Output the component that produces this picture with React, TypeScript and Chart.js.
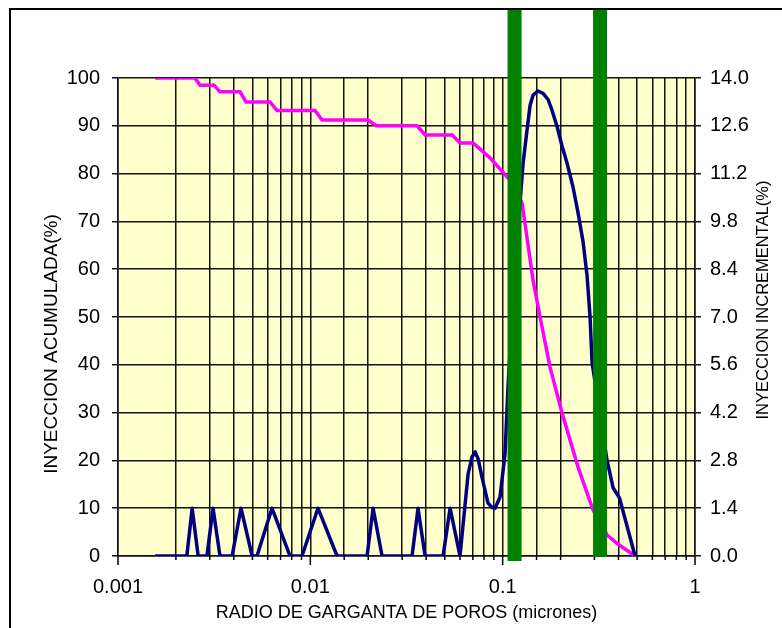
import React, { useEffect, useRef } from "react";
import { Chart, registerables } from "chart.js";

Chart.register(...registerables);

// Pore throat radius (microns) and cumulative injection (%)
const cumRadius = [
  0.00156, 0.00251, 0.00267, 0.00316, 0.00339, 0.00431, 0.00463, 0.00617, 0.00671, 0.01057,
  0.01151, 0.01995, 0.022, 0.0359, 0.0395, 0.0546, 0.06, 0.0702, 0.0859, 0.1054,
  0.115, 0.1262, 0.1439, 0.1565, 0.1763, 0.2037, 0.2466, 0.2951, 0.349, 0.4, 0.488,
];
const cumValues = [
  100, 100, 98.5, 98.5, 97.1, 97.1, 95.0, 95.0, 93.2, 93.2,
  91.2, 91.2, 90.0, 90.0, 88.1, 88.1, 86.4, 86.4, 83.3, 79.3,
  77.5, 73.8, 57.7, 50.0, 39.5, 29.9, 18.6, 9.6, 4.4, 2.4, 0,
];

// Pore throat radius (microns) and incremental injection (%)
const incRadius = [
  0.00156, 0.00228, 0.00243, 0.00261, 0.0029, 0.00312, 0.00339, 0.00392, 0.00436, 0.00498,
  0.00528, 0.00632, 0.00784, 0.00905, 0.01096, 0.01377, 0.01972, 0.0212, 0.0236, 0.0338,
  0.0363, 0.0395, 0.049, 0.0533, 0.06, 0.0661, 0.0693, 0.0719, 0.0745, 0.0781,
  0.0839, 0.0881, 0.0913, 0.0969, 0.1029, 0.1067, 0.116, 0.1277, 0.134, 0.1389,
  0.1439, 0.1528, 0.1622, 0.1722, 0.1807, 0.1918, 0.2037, 0.2163, 0.2323, 0.2466,
  0.2619, 0.2748, 0.2847, 0.2917, 0.349, 0.375, 0.405, 0.488,
];
const incValues = [
  0, 0, 1.4, 0, 0, 1.4, 0, 0, 1.4, 0,
  0, 1.4, 0, 0, 1.4, 0, 0, 1.4, 0, 0,
  1.4, 0, 0, 1.4, 0, 2.4, 2.9, 3.05, 2.85, 2.3,
  1.55, 1.42, 1.4, 1.73, 3.0, 5.0, 8.5, 11.5, 12.5, 13.2,
  13.5, 13.62, 13.55, 13.37, 13.05, 12.58, 12.0, 11.5, 10.8, 10.05,
  9.2, 8.2, 7.0, 5.66, 2.8, 2.0, 1.7, 0,
];

// Vertical marker positions (microns)
const markers = [0.1153, 0.321];

const leftTicks = [0, 100, 10];
const rightTicks = [0, 14, 1.4];

const xTitle = "RADIO DE GARGANTA DE POROS (micrones)";
const yTitle = "INYECCION ACUMULADA(%)";
const y1Title = "INYECCION INCREMENTAL(%)";

const FONT = "'Liberation Sans', Arial, sans-serif";

const framePlugin = {
  id: "framePlugin",
  beforeDraw(chart: any) {
    const { ctx, chartArea: a } = chart;
    ctx.save();
    ctx.fillStyle = "#ffffff";
    ctx.fillRect(0, 0, chart.width, chart.height);
    ctx.fillStyle = "#FFFFCC";
    ctx.fillRect(a.left, a.top, a.right - a.left, a.bottom - a.top);
    ctx.strokeStyle = "#000000";
    ctx.lineWidth = 2;
    ctx.beginPath();
    ctx.moveTo(10, chart.height);
    ctx.lineTo(10, 9);
    ctx.lineTo(chart.width, 9);
    ctx.stroke();
    ctx.restore();
  },
  afterDraw(chart: any) {
    const { ctx, chartArea: a } = chart;
    const xs = chart.scales.x;
    ctx.save();
    // x tick marks
    ctx.strokeStyle = "#000";
    ctx.lineWidth = 1.5;
    xs.ticks.forEach((t: any) => {
      const px = xs.getPixelForValue(t.value);
      const l = Math.log10(t.value);
      const major = Math.abs(l - Math.round(l)) < 1e-6;
      ctx.beginPath();
      ctx.moveTo(px, a.bottom);
      ctx.lineTo(px, a.bottom + (major ? 9 : 4));
      ctx.stroke();
    });
    // green markers
    ctx.fillStyle = "#008000";
    markers.forEach((m, i) => {
      const px = xs.getPixelForValue(m);
      ctx.fillRect(px - 7, 10, 14, a.bottom + (i === 0 ? 5 : 1) - 10);
    });
    // titles
    ctx.fillStyle = "#000";
    ctx.textAlign = "center";
    ctx.textBaseline = "middle";
    ctx.font = `18px ${FONT}`;
    ctx.fillText(xTitle, (a.left + a.right) / 2, 613);
    ctx.save();
    ctx.translate(52, 344);
    ctx.rotate(-Math.PI / 2);
    ctx.font = `19px ${FONT}`;
    ctx.fillText(yTitle, 0, 0);
    ctx.restore();
    ctx.save();
    ctx.translate(763, 300);
    ctx.rotate(-Math.PI / 2);
    ctx.font = `16.5px ${FONT}`;
    ctx.fillText(y1Title, 0, 0);
    ctx.restore();
    ctx.restore();
  },
};

export default function App() {
  const ref = useRef<HTMLCanvasElement | null>(null);
  useEffect(() => {
    if (!ref.current) return;
    const chart = new Chart(ref.current, {
      type: "line",
      data: {
        datasets: [
          {
            label: "Acumulada",
            data: cumRadius.map((x, i) => ({ x, y: cumValues[i] })),
            yAxisID: "y",
            borderColor: "#FF00FF",
            borderWidth: 3.5,
            pointRadius: 0,
            tension: 0,
            fill: false,
            order: 2,
          },
          {
            label: "Incremental",
            data: incRadius.map((x, i) => ({ x, y: incValues[i] })),
            yAxisID: "y1",
            borderColor: "#000080",
            borderWidth: 3.5,
            borderJoinStyle: "round",
            pointRadius: 0,
            tension: 0,
            fill: false,
            order: 1,
          },
        ],
      },
      options: {
        animation: false,
        responsive: false,
        devicePixelRatio: 1,
        layout: { padding: { top: 78, left: 0, right: 0, bottom: 0 } },
        plugins: { legend: { display: false }, tooltip: { enabled: false } },
        scales: {
          x: {
            type: "logarithmic",
            min: 0.001,
            max: 1,
            afterFit: (s: any) => {
              s.height = 72;
            },
            grid: { color: "#111", lineWidth: 1.5, drawTicks: false },
            border: { display: true, color: "#111", width: 1.5 },
            ticks: {
              autoSkip: false,
              maxRotation: 0,
              padding: 19,
              color: "#000",
              font: { family: FONT, size: 20 },
              callback: (v: any) => {
                const n = Number(v);
                const l = Math.log10(n);
                if (Math.abs(l - Math.round(l)) < 1e-6) return String(Number(n.toPrecision(6)));
                return "";
              },
            },
          },
          y: {
            position: "left",
            min: leftTicks[0],
            max: leftTicks[1],
            afterFit: (s: any) => {
              s.width = 118;
            },
            grid: { color: "#111", lineWidth: 1.5, tickLength: 6, tickColor: "#111" },
            border: { display: true, color: "#111", width: 1.5 },
            ticks: {
              stepSize: leftTicks[2],
              padding: 12,
              color: "#000",
              font: { family: FONT, size: 20 },
            },
          },
          y1: {
            position: "right",
            min: rightTicks[0],
            max: rightTicks[1],
            afterFit: (s: any) => {
              s.width = 87;
            },
            grid: { drawOnChartArea: false, tickLength: 6, tickColor: "#111", lineWidth: 1.5 },
            border: { display: true, color: "#111", width: 1.5 },
            ticks: {
              stepSize: rightTicks[2],
              padding: 9,
              color: "#000",
              font: { family: FONT, size: 20 },
              callback: (v: any) => Number(v).toFixed(1),
            },
          },
        },
      },
      plugins: [framePlugin],
    } as any);
    return () => chart.destroy();
  }, []);
  return (
    <canvas
      ref={ref}
      width={782}
      height={628}
      style={{ position: "fixed", left: 0, top: 0, width: 782, height: 628 }}
    />
  );
}
